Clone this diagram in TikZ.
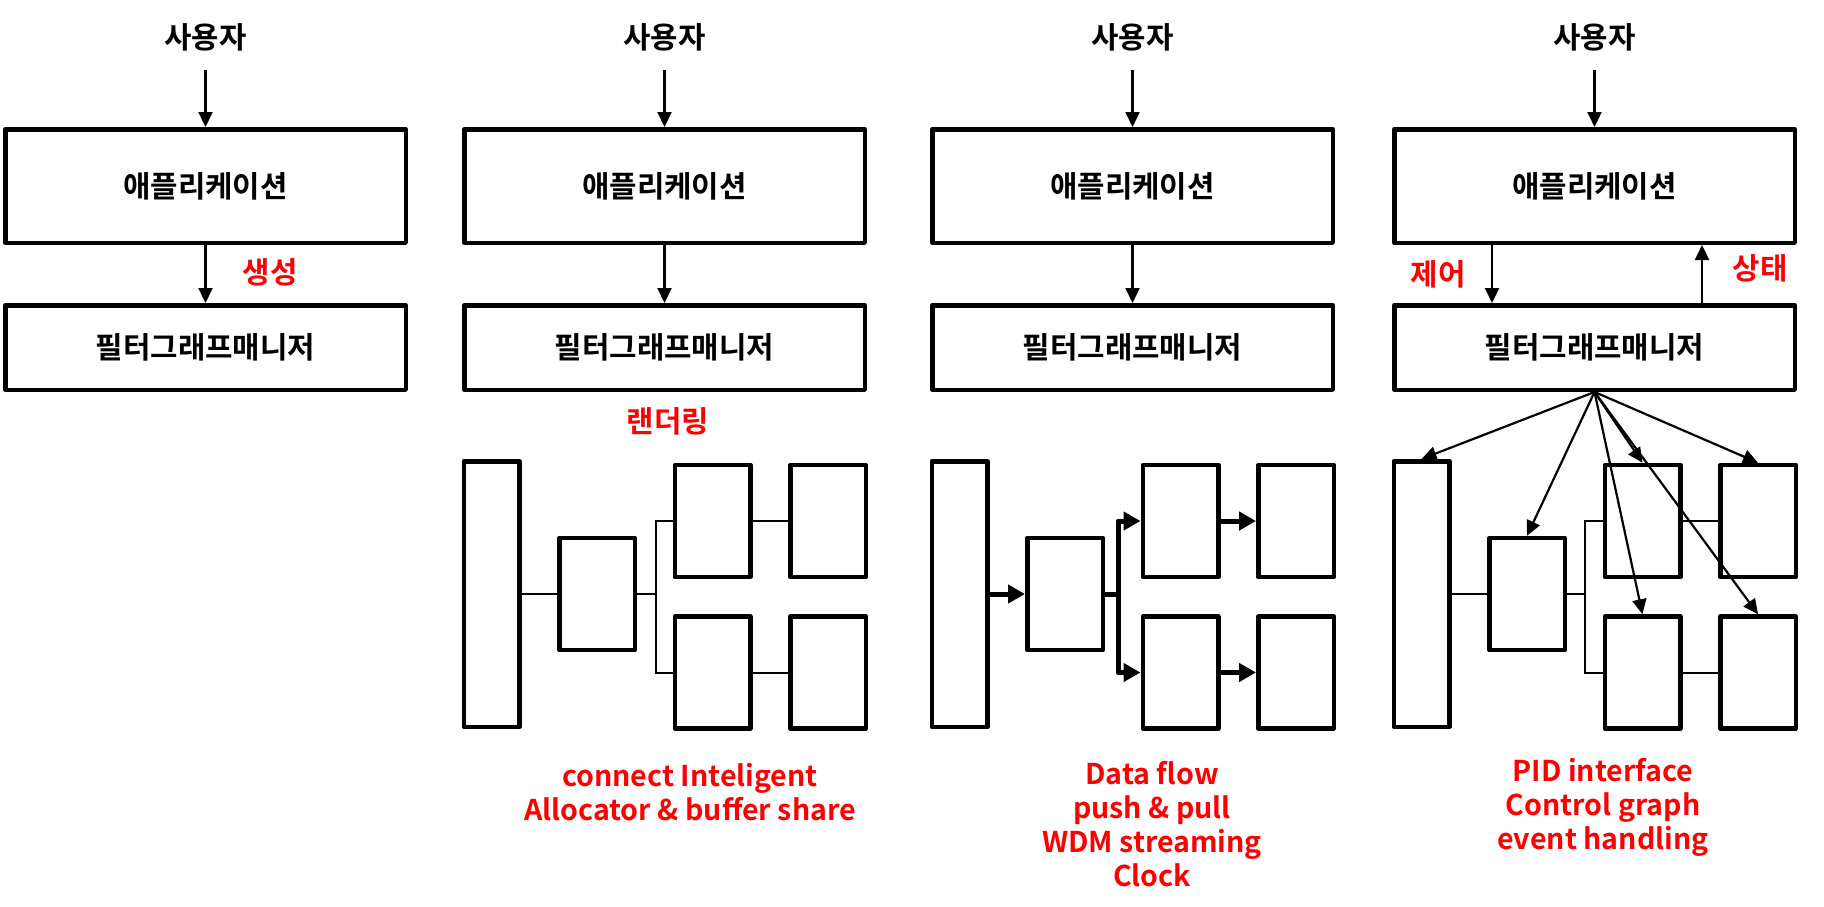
\documentclass[tikz,border=0pt]{standalone}
\usepackage{fontspec}
\setmainfont{Noto Sans CJK KR}[BoldFont={* Bold}]
\usepackage{tikz}
\usetikzlibrary{arrows.meta}
\usetikzlibrary{positioning}
\begin{document}
\begin{tikzpicture}[x=0.5pt,y=-0.5pt,
		kor/.style={font=\bfseries\fontsize{14.9pt}{17pt}\selectfont},
		eng/.style={font=\bfseries\fontsize{14.3pt}{17pt}\selectfont,text=red,align=center},
		box/.style={draw,rectangle,line width=2.25pt,line join=round,inner sep=0pt},
		appbox/.style={box,kor,minimum width=200.25pt,minimum height=56.75pt},
		mgrbox/.style={box,kor,minimum width=200.25pt,minimum height=42.25pt},
		tallbox/.style={box,minimum width=27.75pt,minimum height=132.75pt},
		fltbox/.style={box,minimum width=37.75pt,minimum height=56pt},
		link/.style={line width=1pt},
		arr/.style={line width=1.1pt,-{Triangle[length=7.5pt,width=7pt]}},
		fat/.style={line width=2.5pt,line join=round,-{Triangle[length=8.5pt,width=9pt]}}]
		\useasboundingbox (0,0) rectangle (1824,906);
		% column 1
		\node (usr1) [kor,inner sep=0pt] at (205.5,37) {사용자};
		\node (app1) [appbox] at (205.5,186) {애플리케이션};
		\node (mgr1) [mgrbox] at (205.5,347.5) {필터그래프매니저};
		\draw[arr,shorten <=9.5pt] (usr1) -- (app1);
		\draw[arr] (app1) -- (mgr1);
		\node (gen) [kor,text=red] at (270,272) {생성};
		% column 2
		\node (usr2) [kor,inner sep=0pt] at (664.5,37) {사용자};
		\node (app2) [appbox] at (664.5,186) {애플리케이션};
		\node (mgr2) [mgrbox] at (664.5,347.5) {필터그래프매니저};
		\draw[arr,shorten <=9.5pt] (usr2) -- (app2);
		\draw[arr] (app2) -- (mgr2);
		\node (rnd) [kor,text=red] at (668,421) {랜더링};
		\node (src2) [tallbox] at (491.5,594) {};
		\node (mid2) [fltbox] at (597,594) {};
		\node (tl2) [fltbox] at (712.5,521) {};
		\node (tr2) [fltbox] at (828,521) {};
		\node (bl2) [fltbox] at (712.5,672.5) {};
		\node (br2) [fltbox] at (828,672.5) {};
		\coordinate (jn2) at (656,594);
		\draw[link] (src2) -- (mid2);
		\draw[link] (mid2) -- (jn2);
		\draw[link] (tl2.west) -| (jn2) |- (bl2.west);
		\draw[link] (tl2) -- (tr2);
		\draw[link] (bl2) -- (br2);
		\node (txt2) [eng] at (690,792.5) {connect Inteligent\\Allocator \& buffer share};
		% column 3
		\node (usr3) [kor,inner sep=0pt] at (1132.5,37) {사용자};
		\node (app3) [appbox] at (1132.5,186) {애플리케이션};
		\node (mgr3) [mgrbox] at (1132.5,347.5) {필터그래프매니저};
		\draw[arr,shorten <=9.5pt] (usr3) -- (app3);
		\draw[arr] (app3) -- (mgr3);
		\node (src3) [tallbox] at (959.5,594) {};
		\node (mid3) [fltbox] at (1065,594) {};
		\node (tl3) [fltbox] at (1180.5,521) {};
		\node (tr3) [fltbox] at (1296,521) {};
		\node (bl3) [fltbox] at (1180.5,672.5) {};
		\node (br3) [fltbox] at (1296,672.5) {};
		\coordinate (jn3) at (1118,594);
		\draw[fat] (src3) -- (mid3);
		\draw[line width=2.5pt] (mid3) -- (jn3);
		\draw[fat] (jn3) |- (tl3.west);
		\draw[fat] (jn3) |- (bl3.west);
		\draw[fat] (tl3) -- (tr3);
		\draw[fat] (bl3) -- (br3);
		\node (txt3) [eng] at (1152,824) {Data flow\\push \& pull\\WDM streaming\\Clock};
		% column 4
		\node (usr4) [kor,inner sep=0pt] at (1594.5,37) {사용자};
		\node (app4) [appbox] at (1594.5,186) {애플리케이션};
		\node (mgr4) [mgrbox] at (1594.5,347.5) {필터그래프매니저};
		\draw[arr,shorten <=9.5pt] (usr4) -- (app4);
		\draw[arr] ([xshift=-51.25pt]app4.south) -- ([xshift=-51.25pt]mgr4.north);
		\draw[arr] ([xshift=53.75pt]mgr4.north) -- ([xshift=53.75pt]app4.south);
		\node (ctl) [kor,text=red] at (1438,274) {제어};
		\node (sts) [kor,text=red] at (1760,268) {상태};
		\node (src4) [tallbox] at (1421.5,594) {};
		\node (mid4) [fltbox] at (1527,594) {};
		\node (tl4) [fltbox] at (1642.5,521) {};
		\node (tr4) [fltbox] at (1758,521) {};
		\node (bl4) [fltbox] at (1642.5,672.5) {};
		\node (br4) [fltbox] at (1758,672.5) {};
		\coordinate (jn4) at (1585,594);
		\draw[link] (src4) -- (mid4);
		\draw[link] (mid4) -- (jn4);
		\draw[link] (tl4.west) -| (jn4) |- (bl4.west);
		\draw[link] (tl4) -- (tr4);
		\draw[link] (bl4) -- (br4);
		\draw[arr] (mgr4.south) -- (src4.north);
		\draw[arr] (mgr4.south) -- (mid4.north);
		\draw[arr] (mgr4.south) -- (tl4.north);
		\draw[arr] (mgr4.south) -- (bl4.north);
		\draw[arr] (mgr4.south) -- (tr4.north);
		\draw[arr] (mgr4.south) -- (br4.north);
		\node (txt4) [eng] at (1603,807) {PID interface\\Control graph\\event handling};
	\end{tikzpicture}
\end{document}
